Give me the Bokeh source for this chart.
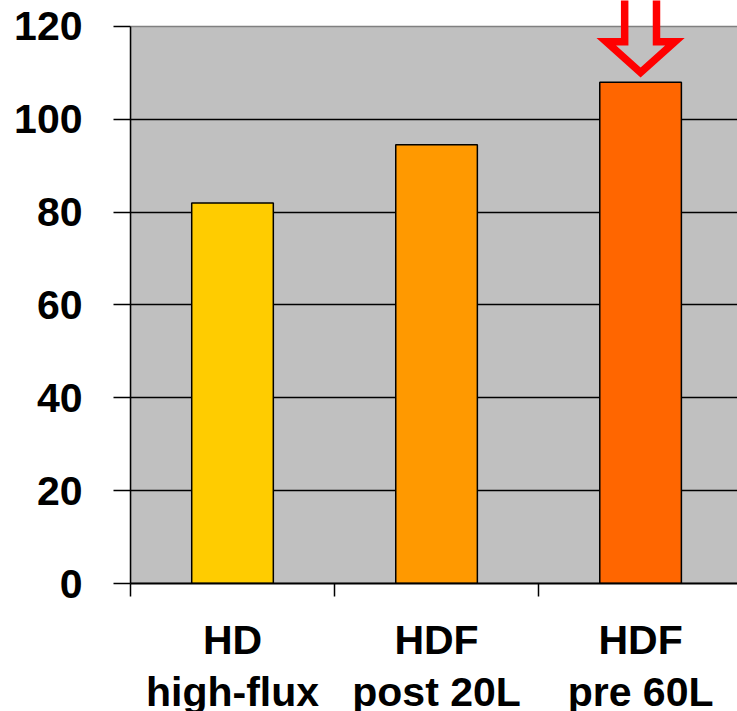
from bokeh.plotting import figure
from bokeh.models import Range1d, FixedTicker
from bokeh.embed import file_html
from bokeh.resources import INLINE

# Data
categories = ["HD\nhigh-flux", "HDF\npost 20L", "HDF\npre 60L"]
values = [82, 94.5, 108]
colors = ["#FFCC00", "#FF9900", "#FF6600"]
y_ticks = [0, 20, 40, 60, 80, 100, 120]
highlight = 2  # index of the bar marked by the arrow

xs = list(range(len(categories)))

p = figure(
    frame_width=607, frame_height=583,
    x_range=Range1d(-0.5, 2.475), y_range=Range1d(0, 125.6),
    output_backend="svg", toolbar_location=None,
    min_border_left=130, min_border_right=0, min_border_top=0, min_border_bottom=128,
)
p.outline_line_color = None
p.background_fill_color = "white"
p.border_fill_color = "white"

# grey plot area from 0 to the top tick
p.quad(left=-0.5, right=3.0, bottom=0, top=max(y_ticks),
       fill_color="#C0C0C0", line_color="#808080", line_width=1.5, level="image")

# bars
p.vbar(x=xs, top=values, width=0.4, fill_color=colors,
       line_color="black", line_width=1.5)

# hollow red arrow pointing to the highlighted bar
cx = xs[highlight]
v = values[highlight]
shaft = 0.078
head = 0.168
tip = v + 2.1
base = v + 8.7
top = v + 25
ax = [cx - shaft, cx - shaft, cx - head, cx, cx + head, cx + shaft, cx + shaft]
ay = [top, base, base, tip, base, base, top]
p.line(ax, ay, line_color="#FF0000", line_width=7.5, line_join="miter")

# axes
font = "Liberation Sans"
p.yaxis.ticker = FixedTicker(ticks=y_ticks)
p.yaxis.bounds = (0, max(y_ticks))
p.yaxis.major_tick_out = 17
p.yaxis.major_tick_in = 0
p.yaxis.minor_tick_line_color = None
p.yaxis.axis_line_color = "black"
p.yaxis.axis_line_width = 1.5
p.yaxis.major_tick_line_width = 1.5
p.yaxis.major_label_text_font = font
p.yaxis.major_label_text_font_style = "bold"
p.yaxis.major_label_text_font_size = "41px"
p.yaxis.major_label_text_color = "black"
p.yaxis.major_label_standoff = 31

p.xaxis.ticker = FixedTicker(ticks=xs, minor_ticks=[-0.5, 0.5, 1.5, 2.5])
p.xaxis.major_label_overrides = {i: c for i, c in zip(xs, categories)}
p.xaxis.major_tick_line_color = None
p.xaxis.major_tick_out = 13
p.xaxis.minor_tick_out = 13
p.xaxis.minor_tick_in = 0
p.xaxis.minor_tick_line_color = "black"
p.xaxis.minor_tick_line_width = 1.5
p.xaxis.axis_line_color = "black"
p.xaxis.axis_line_width = 2
p.xaxis.major_label_text_font = font
p.xaxis.major_label_text_font_style = "bold"
p.xaxis.major_label_text_font_size = "41px"
p.xaxis.major_label_text_line_height = 1.15
p.xaxis.major_label_text_color = "black"
p.xaxis.major_label_text_align = "center"
p.xaxis.major_label_standoff = 20

p.xgrid.grid_line_color = None
p.ygrid.ticker = FixedTicker(ticks=y_ticks[1:-1])
p.ygrid.grid_line_color = "black"
p.ygrid.grid_line_width = 1.5

open("out.html", "w").write(file_html(p, INLINE))
